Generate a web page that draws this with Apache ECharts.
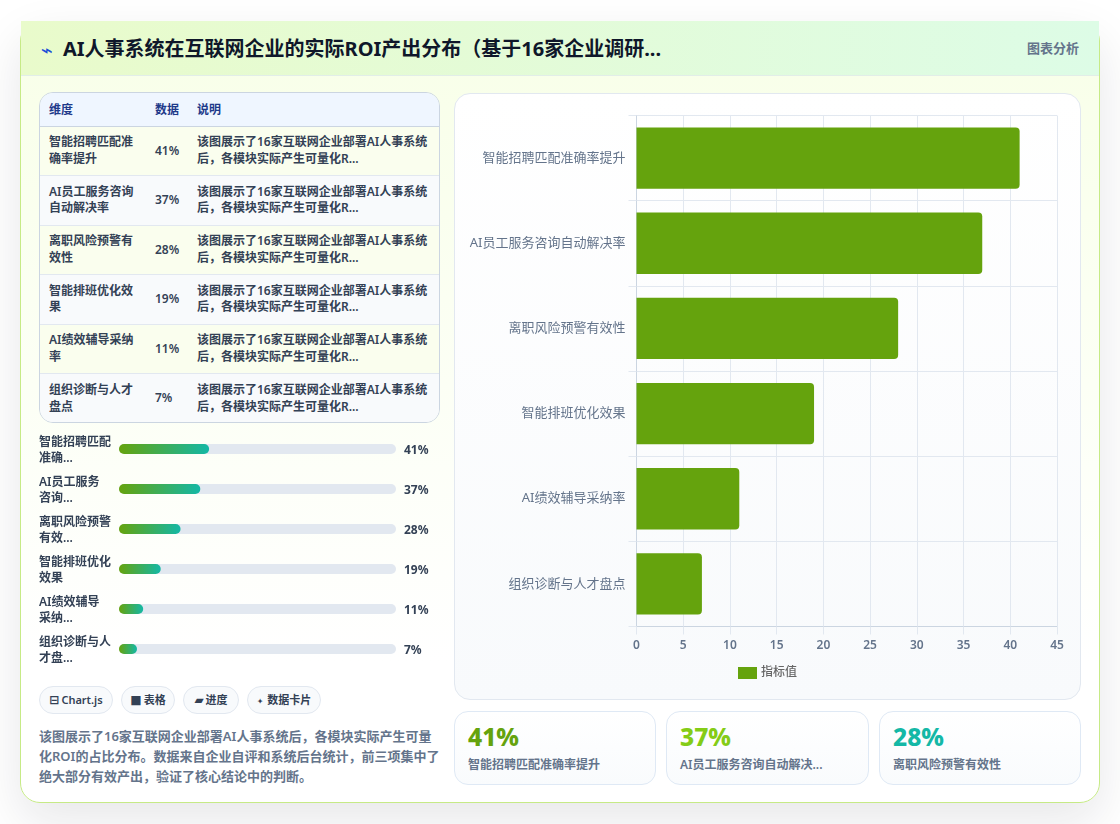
<!DOCTYPE html>
<html lang="zh-CN">
<head>
<meta charset="utf-8">
<title>AI人事系统ROI产出分布</title>
<script src="https://cdn.jsdelivr.net/npm/echarts@6/dist/echarts.min.js"></script>
<style>
  * { box-sizing: border-box; margin: 0; padding: 0; }
  html, body { width: 1120px; height: 824px; overflow: hidden; background: #fff; }
  body { position: relative; font-family: "Noto Sans", "Noto Sans CJK SC", sans-serif; }
  .card { position: absolute; left: 20px; top: 21px; width: 1080px; height: 782px; border: 1px solid #c6ea86; border-radius: 20px;
          background: linear-gradient(180deg, #f8ffe8 0%, #ffffff 82%); box-shadow: 0 18px 48px rgba(15, 23, 42, .10); }
  .head { position: absolute; left: 21px; top: 21px; width: 1078px; height: 55px; background: linear-gradient(90deg, #e9fbcb 0%, #ddfce6 100%); border-bottom: 1px solid #e2eee8; }
  .bolt { position: absolute; left: 41px; top: 37px; font: 400 20px/26px "DejaVu Sans"; color: #1d4ed8; }
  .title { position: absolute; left: 63px; top: 35px; font-size: 20px; line-height: 28px; font-weight: 700; color: #0f172a; white-space: nowrap; }
  .kind { position: absolute; left: 1027px; top: 38px; font-size: 13px; line-height: 20px; font-weight: 600; color: #64748b; white-space: nowrap; }
  .tablebox { position: absolute; left: 39px; top: 92px; width: 401px; height: 331px; border: 1px solid #cbd5e1; border-radius: 14px; overflow: hidden; }
  table { width: 399px; border-collapse: collapse; table-layout: fixed; font-size: 12px; line-height: 16.5px; font-weight: 600; color: #334155; }
  th { height: 33px; background: #eff6ff; color: #1e3a8a; text-align: left; padding: 2px 9px 0; font-size: 12px; font-weight: 600; border-bottom: 1px solid #cbd5e1; }
  td { height: 49.5px; padding: 0 9px; border-bottom: 1px solid #e2e8f0; vertical-align: middle; }
  tr:last-child td { border-bottom: 0; }
  tbody tr:nth-child(odd) td { background: #fafeee; }
  tbody tr:nth-child(even) td { background: #f8fafc; }
  #bars { position: absolute; left: 39px; top: 429px; width: 401px; height: 244px; }
  .tag { position: absolute; top: 686px; height: 28px; border: 1px solid #e2e8f0; border-radius: 14px; background: #f8fafc; font-size: 11px; line-height: 26px; font-weight: 600; color: #334155; text-align: center; white-space: nowrap; }
  .tag i { font: 700 12px "DejaVu Sans"; margin-right: 2px; font-style: normal; }
  .tag i.small { font-size: 8px; margin-right: 4px; }
  .note { position: absolute; left: 39px; top: 726px; width: 401px; font-size: 13px; line-height: 20px; font-weight: 600; color: #64748b; }
  .panel { position: absolute; left: 454px; top: 93px; width: 627px; height: 607px; border: 1px solid #e2e8f0; border-radius: 16px; background: linear-gradient(180deg, #ffffff 0%, #f8fafc 100%); }
  #main { position: absolute; left: 0; top: 0; width: 625px; height: 605px; }
  .kpi { position: absolute; top: 711px; height: 74px; border: 1px solid #dfe9f5; border-radius: 14px; background: linear-gradient(180deg, #ffffff 0%, #f9fbfd 100%); padding-left: 13px; }
  .kpi b { display: block; margin-top: 8px; font-size: 24.5px; line-height: 34px; font-weight: 800; }
  .kpi span { display: block; margin-top: 3px; font-size: 12px; line-height: 16px; font-weight: 600; color: #64748b; white-space: nowrap; }
</style>
</head>
<body>
<div class="card"></div>
<div class="head"></div>
<div class="bolt">⌁</div>
<div class="title">AI人事系统在互联网企业的实际ROI产出分布（基于16家企业调研...</div>
<div class="kind">图表分析</div>

<div class="tablebox"><table id="tbl"></table></div>
<div id="bars"></div>

<div class="tag" style="left:39px;width:74px"><i>⊟</i>Chart.js</div>
<div class="tag" style="left:121px;width:54px"><i>■</i>表格</div>
<div class="tag" style="left:183px;width:56px"><i>▰</i>进度</div>
<div class="tag" style="left:247px;width:74px"><i class="small">✦</i>数据卡片</div>
<div class="note">该图展示了16家互联网企业部署AI人事系统后，各模块实际产生可量化ROI的占比分布。数据来自企业自评和系统后台统计，前三项集中了绝大部分有效产出，验证了核心结论中的判断。</div>

<div class="panel"><div id="main"></div></div>
<div id="kpis"></div>

<script>
// Survey results: share of measurable ROI per HR-system module
const categories = ['智能招聘匹配准确率提升', 'AI员工服务咨询自动解决率', '离职风险预警有效性', '智能排班优化效果', 'AI绩效辅导采纳率', '组织诊断与人才盘点'];
const values = [41, 37, 28, 19, 11, 7];
const shortLabels = ['智能招聘匹配\n准确...', 'AI员工服务\n咨询...', '离职风险预警\n有效...', '智能排班优化\n效果', 'AI绩效辅导\n采纳...', '组织诊断与人\n才盘...'];
const tableHead = ['维度', '数据', '说明'];
const tableNote = '该图展示了16家互联网企业部署AI人事系统后，各模块实际产生可量化R...';
const kpiLabels = ['智能招聘匹配准确率提升', 'AI员工服务咨询自动解决...', '离职风险预警有效性'];
const kpiColors = ['#65a30d', '#84cc16', '#14b8a6'];
const kpiBoxes = [[454, 202], [666, 203], [879, 202]];
const seriesName = '指标值';

// Summary table
document.getElementById('tbl').innerHTML =
  '<colgroup><col style="width:106px"><col style="width:42px"><col></colgroup>' +
  '<thead><tr>' + tableHead.map(h => '<th>' + h + '</th>').join('') + '</tr></thead><tbody>' +
  categories.map((c, i) => '<tr><td>' + c + '</td><td>' + values[i] + '%</td><td>' + tableNote + '</td></tr>').join('') +
  '</tbody>';

// KPI cards for the three leading modules
document.getElementById('kpis').innerHTML = kpiLabels.map((l, i) =>
  '<div class="kpi" style="left:' + kpiBoxes[i][0] + 'px;width:' + kpiBoxes[i][1] + 'px"><b style="color:' + kpiColors[i] + '">' + values[i] + '%</b><span>' + l + '</span></div>'
).join('');

const fontStack = '"Noto Sans", "Noto Sans CJK SC", sans-serif';

// Horizontal bar chart
const main = echarts.init(document.getElementById('main'), null, { renderer: 'canvas' });
main.setOption({
  animation: false,
  textStyle: { fontFamily: fontStack },
  grid: { left: 181.5, right: 23, top: 21.5, bottom: 72.5, outerBoundsMode: 'none' },
  legend: {
    show: true, bottom: 15, left: 'center', itemWidth: 19, itemHeight: 12, itemGap: 5,
    data: [{ name: seriesName, icon: 'rect' }],
    textStyle: { fontSize: 12, fontWeight: 500, color: '#666666', padding: [0, 0, 0, -1] }
  },
  xAxis: {
    type: 'value', min: 0, max: 45, interval: 5,
    axisLine: { show: true, lineStyle: { color: '#cbd5e1' } },
    axisTick: { show: true, length: 8, lineStyle: { color: '#e2e8f0' } },
    axisLabel: { color: '#64748b', fontSize: 12, fontWeight: 600, margin: 13, fontFamily: fontStack },
    splitLine: { show: true, lineStyle: { color: '#e2e8f0' } }
  },
  yAxis: {
    type: 'category', inverse: true, data: categories,
    axisLine: { show: true, lineStyle: { color: '#cbd5e1' } },
    axisTick: { show: true, length: 8, alignWithLabel: false, lineStyle: { color: '#e2e8f0' } },
    axisLabel: { color: '#64748b', fontSize: 13, margin: 11, fontFamily: fontStack },
    splitLine: { show: true, lineStyle: { color: '#e2e8f0' } }
  },
  series: [{
    name: seriesName, type: 'bar', data: values, barWidth: '72%',
    itemStyle: { color: '#65a30d', borderRadius: [0, 4, 4, 0] }
  }]
});

// Progress rows: the bars sit on one grid, their side labels on a second grid just below it
const bars = echarts.init(document.getElementById('bars'), null, { renderer: 'canvas' });
const rowText = { color: '#334155', fontSize: 12, fontWeight: 600, fontFamily: fontStack };
const hiddenCategory = { type: 'category', inverse: true, data: categories, show: false };
bars.setOption({
  animation: false,
  grid: [
    { left: 80, top: 0, width: 277, height: 240, outerBoundsMode: 'none' },
    { left: 80, top: 2, width: 277, height: 240, outerBoundsMode: 'none' }
  ],
  xAxis: [
    { type: 'value', min: 0, max: 126, show: false, gridIndex: 0 },
    { type: 'value', min: 0, max: 126, show: false, gridIndex: 1 }
  ],
  yAxis: [
    { ...hiddenCategory, gridIndex: 0 },
    {
      type: 'category', inverse: true, data: shortLabels, gridIndex: 1,
      axisLine: { show: false }, axisTick: { show: false },
      axisLabel: { ...rowText, align: 'left', margin: 80, lineHeight: 16 }
    },
    {
      type: 'category', inverse: true, position: 'right', data: values.map(v => v + '%'), gridIndex: 1,
      axisLine: { show: false }, axisTick: { show: false },
      axisLabel: { ...rowText, fontWeight: 700, align: 'left', margin: 8 }
    }
  ],
  series: [{
    type: 'bar', data: values, barWidth: 10, barMinHeight: 18, xAxisIndex: 0, yAxisIndex: 0,
    showBackground: true,
    backgroundStyle: { color: '#e2e8f0', borderRadius: 5 },
    itemStyle: {
      borderRadius: 5,
      color: new echarts.graphic.LinearGradient(0, 0, 1, 0, [
        { offset: 0, color: '#65a30d' },
        { offset: 1, color: '#14b8a6' }
      ])
    }
  }]
});
</script>
</body>
</html>
